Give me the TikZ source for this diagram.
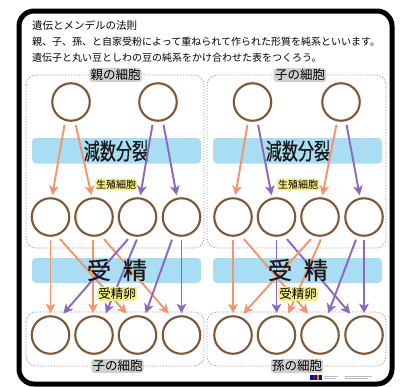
\documentclass[tikz,border=0pt]{standalone}
\usepackage{fontspec}
\usepackage{graphicx}
\setmainfont{Noto Sans CJK JP}
\usetikzlibrary{arrows.meta,calc}
\definecolor{brn}{HTML}{7D5836}
\definecolor{org}{HTML}{F5936B}
\definecolor{pur}{HTML}{8A68BC}
\definecolor{sky}{HTML}{A9DDF3}
\definecolor{lgray}{HTML}{CFCFCF}
\definecolor{hiy}{HTML}{F6EE86}
\definecolor{dotg}{HTML}{9A9A9A}
\begin{document}
\begin{tikzpicture}[x=1pt,y=-1pt,
  cell/.style={circle,draw=brn,line width=2.1pt,fill=white,minimum size=37.5pt,inner sep=0pt},
  oar/.style={draw=org,line width=1.9pt,-{Stealth[length=9.5pt,width=9.5pt,inset=2.5pt]},shorten <=3pt,shorten >=2pt},
  par/.style={oar,draw=pur},
  panel/.style={draw=dotg,line width=0.8pt,dash pattern=on 1.2pt off 1.6pt,rounded corners=10pt},
  band/.style={fill=sky,rounded corners=4pt},
  glabel/.style={fill=lgray,rounded corners=3pt,inner sep=1.2pt,font=\fontsize{12.5}{12.5}\selectfont},
  ylabel/.style={fill=hiy,rounded corners=3pt,inner sep=1.2pt},
  bandtext/.style={inner sep=0pt,text=black!90},
  line/.style={anchor=west,inner sep=0pt}]
\useasboundingbox (0,0) rectangle (403,386);
\fill[white] (0,0) rectangle (403,386);
% frame
\draw[line width=5pt,rounded corners=15pt] (19,11) rectangle (392,384);
% texts
\node[line,font=\fontsize{10.5}{12}\selectfont] (t1) at (32,25) {遺伝とメンデルの法則};
\node[line,font=\fontsize{10}{12}\selectfont] (t2) at (32,42) {親、子、孫、と自家受粉によって重ねられて作られた形質を純系といいます。};
\node[line,font=\fontsize{10}{12}\selectfont] (t3) at (32,57.5) {遺伝子と丸い豆としわの豆の純系をかけ合わせた表をつくろう。};
% panels
\draw[panel] (26,75) rectangle (204,248);
\draw[panel] (207,75) rectangle (386,248);
\draw[panel] (26,312) rectangle (204,366);
\draw[panel] (207,312) rectangle (386,366);
% bands
\fill[band] (32,138) rectangle (201,163.5);
\fill[band] (213,138) rectangle (382,163.5);
\fill[band] (32,258) rectangle (201,283);
\fill[band] (213,258) rectangle (382,283);
% cells
\node[cell] (p1) at (71,102) {};
\node[cell] (p2) at (158,102) {};
\node[cell] (p3) at (252.5,102) {};
\node[cell] (p4) at (341,102) {};
\foreach \n/\x in {1/50.5,2/94,3/137.5,4/181.5}{
  \node[cell] (g\n) at (\x,217) {};
  \node[cell] (b\n) at (\x,335) {};
}
\foreach \n/\x in {1/233,2/276.5,3/320,4/364}{
  \node[cell] (h\n) at (\x,217) {};
  \node[cell] (c\n) at (\x,335) {};
}
% band texts
\node[bandtext] (m1) at (116,151) {\scalebox{0.7}[1]{\fontsize{23}{23}\selectfont\addfontfeature{FakeBold=0.6}減数分裂}};
\node[bandtext] (m2) at (298,151) {\scalebox{0.7}[1]{\fontsize{23}{23}\selectfont\addfontfeature{FakeBold=0.6}減数分裂}};
% meiosis arrows
\draw[oar] ([xshift=-6pt]p1.south) -- ([xshift=1.5pt]g1.north);
\draw[oar] ([xshift=4pt]p1.south) -- ([xshift=-2pt]g2.north);
\draw[par] ([xshift=-5pt]p2.south) -- ([xshift=2.5pt]g3.north);
\draw[par] ([xshift=5pt]p2.south) -- ([xshift=-4.5pt]g4.north);
\draw[oar] ([xshift=-4.5pt]p3.south) -- ([xshift=2pt]h1.north);
\draw[par] ([xshift=5pt]p3.south) -- ([xshift=-4.5pt]h2.north);
\draw[oar] ([xshift=-4pt]p4.south) -- ([xshift=2pt]h3.north);
\draw[par] ([xshift=5pt]p4.south) -- ([xshift=-4pt]h4.north);
% fertilization arrows, left
\draw[oar] (g1.south) -- (b1.north);
\draw[oar] ([xshift=7.5pt]g1.south) -- ([xshift=-9.5pt]b3.north);
\draw[oar] ([xshift=-1pt]g2.south) -- ([xshift=-1pt]b2.north);
\draw[oar] ([xshift=8pt]g2.south) -- ([xshift=-11.5pt]b4.north);
\draw[par] ([xshift=-7.5pt]g3.south) -- ([xshift=11.5pt]b1.north);
\draw[par] ([xshift=0.5pt]g3.south) -- ([xshift=11pt]b2.north);
\draw[par] ([xshift=-8.5pt]g4.south) -- ([xshift=7.5pt]b3.north);
\draw[par] (g4.south) -- (b4.north);
% fertilization arrows, right
\draw[oar] (h1.south) -- (c1.north);
\draw[oar] ([xshift=9pt]h1.south) -- ([xshift=-10.5pt]c3.north);
\draw[par] (h2.south) -- (c2.north);
\draw[par] ([xshift=8.5pt]h2.south) -- ([xshift=-12.5pt]c4.north);
\draw[oar] ([xshift=-7pt]h3.south) -- ([xshift=9pt]c1.north);
\draw[oar] ([xshift=2pt]h3.south) -- ([xshift=11pt]c2.north);
\draw[par] ([xshift=-7pt]h4.south) -- ([xshift=7.5pt]c3.north);
\draw[par] (h4.south) -- (c4.north);
% fertilization texts
\node[bandtext,font=\fontsize{24}{24}\selectfont\addfontfeature{FakeBold=0.5}] (f1) at (117,270) {受\hspace{0.5em}精};
\node[bandtext,font=\fontsize{24}{24}\selectfont\addfontfeature{FakeBold=0.5}] (f2) at (298,270) {受\hspace{0.5em}精};
% labels
\node[glabel] (l1) at (115.5,75) {親の細胞};
\node[glabel] (l2) at (300,75) {子の細胞};
\node[glabel] (l3) at (117.5,366) {子の細胞};
\node[glabel] (l4) at (297,366) {孫の細胞};
\node[ylabel,font=\fontsize{10}{10}\selectfont] (y1) at (116,184.5) {生殖細胞};
\node[ylabel,font=\fontsize{10}{10}\selectfont] (y2) at (298,184.5) {生殖細胞};
\node[ylabel,font=\fontsize{12.5}{12.5}\selectfont] (y3) at (117,294) {受精卵};
\node[ylabel,font=\fontsize{12.5}{12.5}\selectfont] (y4) at (298,294) {受精卵};
% small logo
\fill[blue!70!black] (310,375) rectangle (322,379.5);
\fill[red!75!black] (313,375) rectangle (315,379.5);
\fill[orange] (317,375) rectangle (319,379.5);
\fill[gray!55] (324,375.5) rectangle (338,376.5);
\fill[gray!55] (324,377.5) rectangle (336,378.5);
\fill[gray!55] (345,375.5) rectangle (372,376.5);
\fill[gray!55] (345,377.5) rectangle (368,378.5);
\end{tikzpicture}
\end{document}
